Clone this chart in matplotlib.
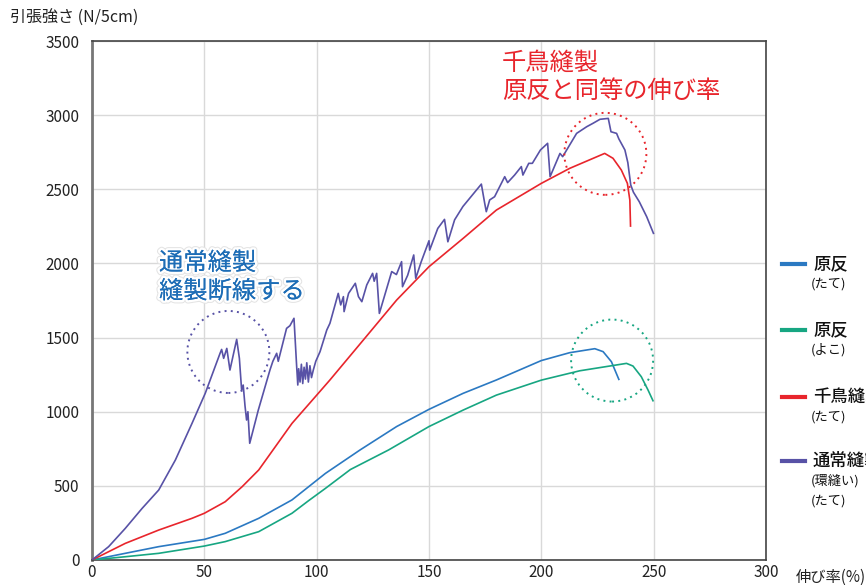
import numpy as np
import matplotlib
matplotlib.use('Agg')
import matplotlib.pyplot as plt
import matplotlib.patheffects as pe
from matplotlib.patches import Ellipse

plt.rcParams['font.family'] = ['Noto Sans CJK JP', 'DejaVu Sans']

# 原反 (たて)
blue_x = [0, 14.8, 29.7, 50, 59.3, 74.2, 89, 103.9, 119.3, 135.6, 150, 165.2, 180, 200,
          212.6, 223.8, 227.5, 231.2, 234.5]
blue_y = [0, 45, 90, 139, 180, 281, 405, 584, 742, 900, 1016, 1124, 1214, 1345,
          1398, 1425, 1405, 1337, 1218]

# 原反 (よこ)
green_x = [0, 14.8, 29.7, 50, 59.3, 74.2, 89, 96.4, 103.9, 115, 132, 150, 165.2, 180, 200,
           217.1, 237.9, 240.8, 244.5, 247.5, 249.7]
green_y = [0, 22, 45, 94, 124, 191, 315, 400, 483, 610, 742, 900, 1011, 1112, 1213,
           1276, 1326, 1308, 1236, 1146, 1074]

# 千鳥縫製 (たて)
red_x = [0, 14.8, 29.7, 44.5, 50, 59.3, 66.8, 74.2, 81.6, 89, 99.4, 105.9, 120.8, 135.6,
         150, 165.2, 180, 200, 212.6, 228.2, 231.9, 235.6, 238.3, 239.4, 239.7]
red_y = [0, 112, 202, 281, 315, 393, 494, 607, 764, 921, 1101, 1214, 1484, 1753,
         1978, 2169, 2360, 2540, 2641, 2742, 2709, 2630, 2540, 2427, 2252]

# 通常縫製 (環縫い)(たて)
purple_x = [0, 7.4, 14.8, 22.3, 29.7, 37.1, 44.5, 50.4, 57.0, 57.7, 58.6, 60.0, 61.4, 64.4,
            65.6, 66.2, 66.6, 67.3, 68.1, 68.8, 69.4, 70.2, 74, 79.2, 80.5, 82.2, 82.9,
            86.6, 88.1, 89.9, 91.1, 91.6, 92.0, 92.6, 93.2, 93.8, 94.4, 95.0, 95.6, 96.3,
            97.0, 97.7, 98.5, 99.6, 101.5, 104.5, 105.9, 109.6, 110.7, 111.9, 112.2, 114.2,
            117.2, 118.6, 120.1, 122.3, 124.9, 125.6, 126.7, 127.9, 133.4, 135.5, 137.8,
            138.2, 140.5, 143.2, 144.1, 146.5, 150, 150.3, 153.9, 156.9, 158.4, 161.4,
            165.1, 173.3, 174.8, 175.5, 177, 179.2, 183.7, 185, 188.1, 191.1, 191.8, 194.4,
            196, 199.6, 202.8, 203.9, 208.3, 209.5, 215.7, 220.2, 223, 226.1, 229.8, 231,
            233.5, 234.5, 237.2, 238.5, 239.8, 241, 243.6, 246.9, 249.9]
purple_y = [0, 90, 213, 348, 472, 674, 921, 1124, 1394, 1420, 1360, 1427, 1281, 1488,
            1360, 1230, 1146, 1180, 1040, 944, 1000, 787, 1010, 1281, 1340, 1394, 1340,
            1562, 1580, 1630, 1304, 1180, 1290, 1200, 1320, 1190, 1300, 1220, 1330, 1200,
            1310, 1230, 1281, 1340, 1405, 1551, 1596, 1798, 1720, 1776, 1675, 1798,
            1866, 1776, 1742, 1855, 1933, 1880, 1933, 1663, 1945, 1925, 2012,
            1843, 1920, 2057, 1900, 2010, 2153, 2090, 2236, 2297, 2146, 2294,
            2384, 2535, 2405, 2349, 2428, 2450, 2585, 2545, 2596, 2653, 2596, 2675,
            2675, 2765, 2810, 2585, 2742, 2720, 2877, 2922, 2945, 2972, 2978, 2888,
            2877, 2840, 2765, 2680, 2529, 2480, 2416, 2315, 2203]

# annotation circles (centers, data units)
circle_x = [60.7, 228.5, 231.5]
circle_y = [1403, 2739, 1345]

x_ticks = [0, 50, 100, 150, 200, 250, 300]
y_ticks = [0, 500, 1000, 1500, 2000, 2500, 3000, 3500]

c_blue = '#2b79c2'
c_green = '#17a682'
c_red = '#e8252c'
c_purple = '#5852a6'

fig = plt.figure(figsize=(8.66, 5.85), dpi=100)
ax = fig.add_axes([92/866, 25/585, 674/866, 519/585])

ax.plot(blue_x, blue_y, color=c_blue, lw=1.2, zorder=3)
ax.plot(green_x, green_y, color=c_green, lw=1.2, zorder=3)
ax.plot(red_x, red_y, color=c_red, lw=1.2, zorder=3)
ax.plot(purple_x, purple_y, color=c_purple, lw=1.2, zorder=3)

ax.set_xlim(0, 300)
ax.set_ylim(0, 3500)
ax.set_xticks(x_ticks)
ax.set_yticks(y_ticks)
ax.tick_params(length=0, labelsize=11, colors='#222222')
ax.tick_params(axis='y', pad=9)
ax.tick_params(axis='x', pad=3)
ax.grid(True, color='#d9d9d9', lw=1)
ax.set_axisbelow(True)
for s in ax.spines.values():
    s.set_color('#444444')
    s.set_linewidth(1.2)
ax.spines['left'].set_color('#777777')
ax.spines['left'].set_linewidth(2)

# dotted circles, radius ~41 px
rw = 2 * 41 * 300 / 674
rh = 2 * 41 * 3500 / 519
for cx, cy, col in zip(circle_x, circle_y, [c_purple, c_red, c_green]):
    ax.add_patch(Ellipse((cx, cy), rw, rh, fill=False, ls=(0, (1, 2.2)), lw=1.4,
                         edgecolor=col, zorder=4))

halo = [pe.withStroke(linewidth=5, foreground='#e4e4e4'),
        pe.withStroke(linewidth=3.5, foreground='white'), pe.Normal()]
fig.text(159/866, 1 - 250/585, '通常縫製\n縫製断線する', color='#1d6db6', fontsize=17.5,
         va='top', ha='left', linespacing=1.12, path_effects=halo)
fig.text(502/866, 1 - 50/585, '千鳥縫製\n原反と同等の伸び率', color=c_red, fontsize=17.5,
         va='top', ha='left', linespacing=1.12)

fig.text(10/866, 1 - 18/585, '引張強さ (N/5cm)', fontsize=11.5, color='#222222', va='center')
fig.text(796/866, 1 - 577/585, '伸び率(%)', fontsize=11, color='#222222', va='center')

# legend
leg = [('原反', ['(たて)'], c_blue, 264),
       ('原反', ['(よこ)'], c_green, 330),
       ('千鳥縫製', ['(たて)'], c_red, 397),
       ('通常縫製', ['(環縫い)', '(たて)'], c_purple, 461)]
for name, subs, col, py in leg:
    fig.add_artist(plt.Line2D([782/866, 805/866], [1 - py/585, 1 - py/585],
                              color=col, lw=3, transform=fig.transFigure))
    fig.text(813/866, 1 - py/585, name, fontsize=12.5, color='#111111', va='center',
             fontweight='medium')
    for i, s in enumerate(subs):
        fig.text(811/866, 1 - (py + 20 + 20 * i)/585, s, fontsize=9.5, color='#111111',
                 va='center')

fig.savefig('out.png', dpi=100)
